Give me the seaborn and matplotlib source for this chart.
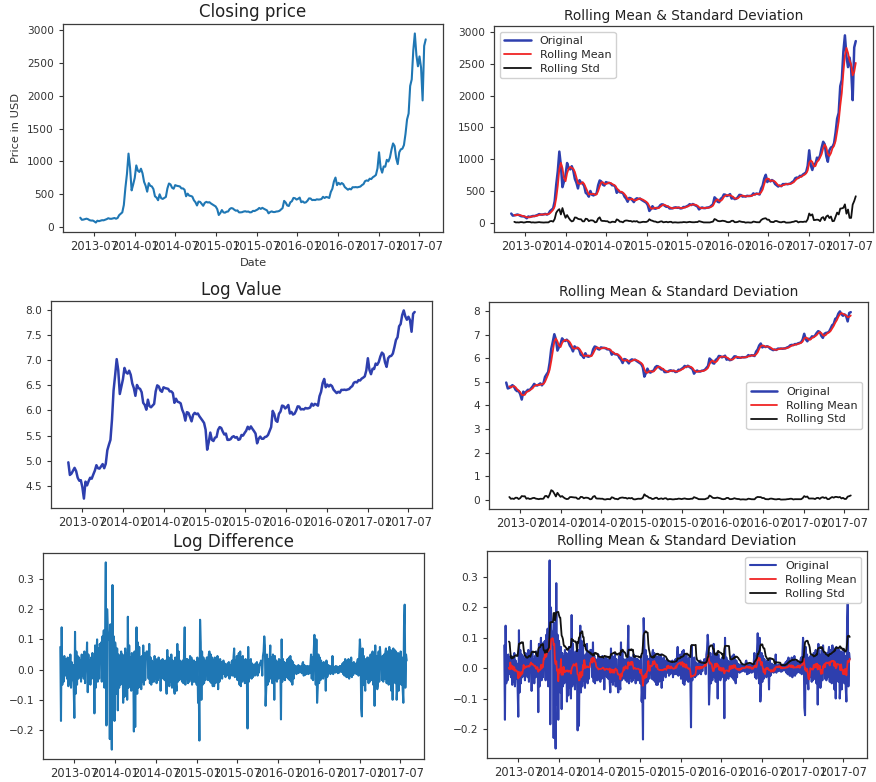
import numpy as np
import pandas as pd
import matplotlib
matplotlib.use("Agg")
import matplotlib.pyplot as plt
import matplotlib.dates as mdates
from matplotlib.ticker import MultipleLocator
import seaborn as sns

# Weekly BTC closing price in USD, one value per Monday from 2013-04-29 to 2017-07-31
close_2013 = [144, 112, 115, 122, 129, 121, 106, 100, 101, 88, 70, 98, 91, 99,
              106, 104, 113, 122, 136, 128, 127, 133, 139, 128, 140, 183, 204,
              225, 338, 600, 810, 1120, 900, 560, 650, 750]
close_2014 = [940, 860, 840, 890, 820, 690, 630, 540, 670, 630, 620, 580, 470,
              450, 410, 500, 440, 430, 445, 460, 590, 665, 650, 600, 585, 640,
              630, 625, 620, 590, 590, 570, 470, 510, 480, 475, 465, 410, 380,
              330, 390, 385, 355, 325, 370, 385, 375, 380, 360, 345, 330, 315]
close_2015 = [275, 185, 215, 260, 225, 220, 235, 238, 275, 290, 285, 265, 250,
              255, 225, 225, 228, 238, 242, 235, 238, 225, 228, 248, 245, 258,
              270, 292, 278, 294, 280, 268, 255, 210, 230, 240, 230, 230, 238,
              240, 248, 268, 290, 400, 375, 330, 322, 378, 395, 445, 440, 420]
close_2016 = [432, 450, 380, 392, 372, 378, 402, 438, 436, 412, 415, 412, 424,
              420, 422, 428, 462, 444, 460, 454, 444, 536, 585, 695, 755, 640,
              675, 650, 672, 655, 610, 590, 570, 585, 575, 608, 607, 610, 606,
              612, 618, 640, 655, 700, 712, 705, 738, 732, 760, 775, 795, 895]
close_2017 = [1140, 905, 830, 925, 920, 1025, 1000, 1060, 1180, 1275, 1235,
              1050, 960, 1140, 1185, 1195, 1250, 1420, 1640, 1730, 2150, 2250,
              2690, 2950, 2620, 2450, 2600, 2430, 1930, 2760, 2860]
close_price = close_2013 + close_2014 + close_2015 + close_2016 + close_2017

# Daily log return, one value every third day from 2013-04-29 to 2017-07-31
log_return = [
    0.075, -0.170, 0.140, -0.050, 0.030, -0.040, 0.045, -0.020, 0.035, 0.010,
    -0.030, 0.040, -0.055, 0.020, -0.045, 0.050, -0.060, 0.025, -0.035, 0.015,
    -0.060, -0.160, 0.125, -0.080, 0.060, -0.050, 0.045, -0.030, 0.040, -0.025,
    0.030, -0.040, 0.050, -0.020, 0.035, -0.030, 0.060, -0.045, 0.040, 0.020,
    0.090, -0.075, 0.050, -0.040, 0.030, -0.050, 0.040, -0.030, 0.055, -0.025,
    0.030, -0.145, 0.080, -0.060, 0.050, 0.100, -0.040, 0.070, -0.030, 0.085,
    0.060, 0.090, -0.040, 0.110, 0.070, 0.130, -0.060, 0.120, 0.355, -0.185,
    0.200, 0.130, 0.100, 0.120, -0.230, 0.150, -0.100, -0.265, 0.280, -0.120,
    0.110, -0.170, 0.090, 0.060, -0.080, 0.070, -0.135, 0.050, -0.060, 0.040,
    -0.050, 0.060, -0.040, 0.050, -0.110, 0.045, -0.090, 0.070, -0.065, 0.055,
    -0.100, 0.175, -0.060, 0.080, -0.050, 0.040, -0.070, 0.055, -0.045, 0.030,
    -0.205, 0.060, -0.190, 0.050, 0.140, -0.080, 0.090, -0.060, 0.075, -0.040,
    0.040, -0.065, 0.045, -0.040, 0.080, -0.050, 0.055, -0.035, 0.030, 0.060,
    0.060, 0.055, -0.030, 0.085, -0.045, 0.040, -0.050, 0.030, -0.040, 0.025,
    -0.040, 0.045, -0.030, 0.035, -0.045, 0.030, -0.035, 0.040, -0.025, 0.030,
    -0.070, 0.030, -0.025, 0.035, -0.030, 0.025, -0.035, 0.030, -0.040, -0.080,
    0.065, -0.045, 0.040, -0.055, 0.035, -0.040, 0.050, -0.060, 0.030, -0.045,
    -0.060, -0.080, 0.040, -0.050, -0.070, 0.085, -0.040, 0.060, -0.035, 0.030,
    -0.030, 0.025, -0.040, 0.030, -0.045, 0.050, 0.140, -0.050, 0.035, -0.030,
    0.035, -0.045, 0.030, -0.040, 0.045, -0.030, 0.040, -0.050, 0.030, -0.040,
    0.030, -0.040, 0.025, -0.035, -0.050, 0.040, -0.110, -0.060, -0.235, 0.165,
    0.090, -0.100, 0.060, -0.050, 0.040, -0.045, 0.030, -0.035, 0.025, 0.040,
    0.040, -0.035, 0.050, 0.060, -0.040, 0.050, -0.045, 0.040, -0.055, 0.030,
    -0.055, 0.040, -0.045, 0.035, -0.040, 0.045, -0.065, 0.030, -0.040, 0.035,
    -0.020, 0.025, -0.030, 0.020, 0.030, -0.015, 0.020, -0.025, 0.015, -0.020,
    0.020, -0.015, 0.025, -0.030, 0.015, -0.020, 0.025, 0.030, -0.020, 0.040,
    0.070, -0.025, 0.030, -0.020, 0.045, -0.035, 0.040, 0.055, -0.050, 0.060,
    -0.055, 0.040, -0.040, 0.045, -0.035, 0.030, -0.045, 0.035, -0.040, -0.030,
    -0.195, 0.075, -0.040, 0.030, -0.025, 0.035, -0.030, 0.020, -0.025, 0.015,
    0.015, -0.020, 0.020, -0.015, 0.025, -0.020, 0.015, -0.010, 0.020, 0.015,
    0.030, 0.025, -0.020, 0.045, 0.060, 0.110, 0.080, -0.120, -0.060, 0.050,
    -0.050, 0.035, -0.040, 0.030, 0.080, -0.030, 0.040, -0.045, 0.050, 0.035,
    -0.100, 0.045, -0.035, 0.030, -0.040, 0.025, -0.030, 0.035, -0.025, 0.030,
    -0.165, 0.100, -0.040, 0.035, -0.030, 0.025, -0.035, 0.020, -0.025, 0.030,
    0.035, -0.030, 0.040, -0.035, 0.045, -0.040, 0.030, -0.050, 0.025, -0.030,
    0.015, -0.010, 0.012, -0.015, 0.010, -0.012, 0.015, -0.010, 0.012, -0.008,
    0.010, -0.012, 0.020, 0.025, -0.020, 0.015, -0.018, 0.012, -0.015, 0.010,
    0.012, -0.015, 0.010, -0.012, 0.015, 0.050, -0.030, 0.040, -0.035, 0.060,
    0.115, 0.060, -0.050, 0.100, -0.110, -0.060, 0.050, -0.045, 0.040, -0.035,
    0.030, -0.025, 0.020, -0.030, 0.025, -0.020, 0.015, -0.070, 0.030, -0.025,
    -0.020, 0.015, -0.012, 0.010, -0.015, 0.012, -0.010, 0.045, -0.015, 0.010,
    0.008, -0.010, 0.012, -0.008, 0.010, -0.012, 0.008, -0.010, 0.012, -0.006,
    0.012, -0.008, 0.020, -0.015, 0.025, -0.020, 0.035, 0.030, -0.025, 0.020,
    -0.025, 0.035, -0.030, 0.025, -0.020, 0.040, -0.025, 0.020, -0.018, 0.025,
    0.015, -0.012, 0.020, -0.015, 0.025, 0.035, -0.020, 0.040, 0.100, 0.060,
    -0.130, -0.155, 0.070, -0.050, 0.045, -0.040, -0.070, 0.035, -0.030, 0.040,
    0.040, -0.045, 0.035, -0.040, 0.050, -0.035, 0.045, 0.060, -0.050, 0.055,
    -0.120, 0.080, -0.050, 0.045, -0.065, -0.050, 0.060, -0.040, 0.075, 0.040,
    0.040, -0.035, 0.045, -0.040, 0.050, -0.030, 0.055, 0.070, -0.045, 0.060,
    0.060, -0.050, 0.075, -0.040, 0.065, -0.070, 0.060, -0.100, 0.070, 0.055,
    0.065, -0.045, 0.060, -0.100, -0.060, 0.055, -0.070, 0.050, -0.045, 0.060,
    -0.050, 0.040, -0.065, -0.110, 0.145, 0.215, -0.060, 0.050, 0.030,
]

price = pd.Series(close_price, dtype=float,
                  index=pd.date_range("2013-04-29", periods=len(close_price), freq="7D"))
log_price = np.log(price)
log_diff = pd.Series(log_return, dtype=float,
                     index=pd.date_range("2013-04-29", periods=len(log_return), freq="3D"))

# Rolling windows of a few weeks for each sampling rate
PRICE_WINDOW = 3
DIFF_WINDOW = 8

sns.set_theme(style="ticks")
plt.rcParams.update({
    "font.family": ["DejaVu Sans"],
    "axes.edgecolor": "#3c3c3c",
    "axes.linewidth": 0.9,
    "xtick.color": "#333333",
    "ytick.color": "#333333",
    "xtick.labelcolor": "#333333",
    "ytick.labelcolor": "#333333",
    "xtick.labelsize": 8.3,
    "ytick.labelsize": 7.6,
    "xtick.major.size": 3,
    "ytick.major.size": 3,
    "xtick.major.width": 0.8,
    "ytick.major.width": 0.8,
    "xtick.major.pad": 2.5,
    "legend.fontsize": 8,
    "axes.labelsize": 8.2,
    "axes.labelcolor": "#333333",
    "axes.titlecolor": "#222222",
})

BLUE_STD = "#1f77b4"
BLUE_DARK = "#2e3fae"
RED = "#f02424"
BLACK = "#111111"

W, H = 876, 782
fig = plt.figure(figsize=(W / 100, H / 100), dpi=100)


def panel(x0, y0, x1, y1):
    return fig.add_axes([x0 / W, 1 - y1 / H, (x1 - x0) / W, (y1 - y0) / H])


def date_axis(ax):
    ax.xaxis.set_major_locator(mdates.MonthLocator(bymonth=[1, 7]))
    ax.xaxis.set_major_formatter(mdates.DateFormatter("%Y-%m"))
    ax.set_xlabel("")
    ax.set_ylabel("")


def draw(ax, s, color, lw, label=None):
    s = s.dropna()
    sns.lineplot(x=s.index, y=s.values, ax=ax, color=color, linewidth=lw,
                 label=label, legend=False)


def rolling_panel(ax, s, window, lw_orig, loc):
    mean = s.rolling(window).mean()
    std = s.rolling(window).std(ddof=0)
    draw(ax, s, BLUE_DARK, lw_orig, "Original")
    draw(ax, mean, RED, 1.3, "Rolling Mean")
    draw(ax, std, BLACK, 1.3, "Rolling Std")
    ax.legend(loc=loc, handlelength=2.4, borderpad=0.4, labelspacing=0.35,
              framealpha=0.9)
    ax.set_title("Rolling Mean & Standard Deviation", fontsize=9.8, pad=4)
    date_axis(ax)


# Row 1: closing price
ax = panel(63, 24, 443, 232)
draw(ax, price, BLUE_STD, 1.5)
date_axis(ax)
ax.set_title("Closing price", fontsize=12, pad=5)
ax.set_xlabel("Date")
ax.set_ylabel("Price in USD")
ax.yaxis.set_major_locator(MultipleLocator(500))

ax = panel(494, 26, 873, 232)
rolling_panel(ax, price, PRICE_WINDOW, 1.8, "upper left")
ax.yaxis.set_major_locator(MultipleLocator(500))

# Row 2: log of the closing price
ax = panel(51, 301, 432, 508)
draw(ax, log_price, BLUE_DARK, 1.8)
date_axis(ax)
ax.set_title("Log Value", fontsize=12, pad=4)
ax.yaxis.set_major_locator(MultipleLocator(0.5))

ax = panel(489, 302, 868, 509)
rolling_panel(ax, log_price, PRICE_WINDOW, 1.8, "center right")
ax.yaxis.set_major_locator(MultipleLocator(1))

# Row 3: log difference
ax = panel(43, 553, 424, 759)
draw(ax, log_diff, BLUE_STD, 1.5)
date_axis(ax)
ax.set_title("Log Difference", fontsize=12, pad=4)
ax.yaxis.set_major_locator(MultipleLocator(0.1))

ax = panel(487, 551, 867, 758)
rolling_panel(ax, log_diff, DIFF_WINDOW, 1.5, "upper right")
ax.yaxis.set_major_locator(MultipleLocator(0.1))

fig.savefig("out.png", dpi=100, facecolor="white")
